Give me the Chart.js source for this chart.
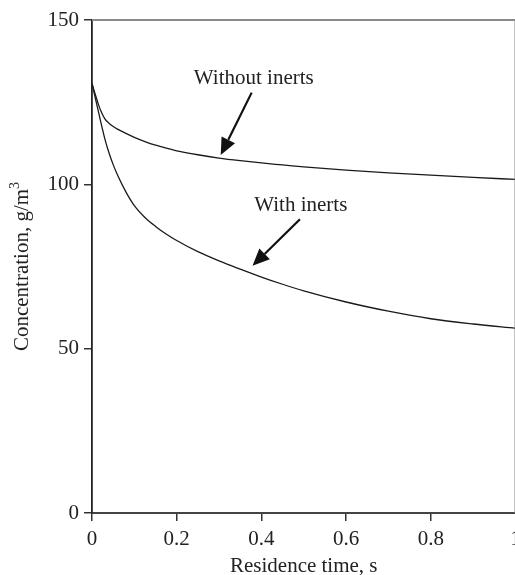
<!DOCTYPE html>
<html>
<head>
<meta charset="utf-8">
<title>Concentration vs residence time</title>
<script src="https://cdn.jsdelivr.net/npm/chart.js@4.4.0/dist/chart.umd.min.js"></script>
<style>
  html, body { margin: 0; padding: 0; background: #fff; overflow: hidden; width: 515px; height: 575px; }
  #wrap { position: absolute; left: 0; top: 0; width: 540px; height: 590px; }
</style>
</head>
<body>
<div id="wrap"><canvas id="conc-chart"></canvas></div>
<script>
// residence time, s
const residenceTime = [0, 0.005, 0.01, 0.015, 0.02, 0.03, 0.04, 0.05, 0.06, 0.08, 0.1, 0.125, 0.15, 0.175, 0.2,
                       0.25, 0.3, 0.35, 0.4, 0.45, 0.5, 0.6, 0.7, 0.8, 0.9, 1.0];
// concentration, g/m3
const withoutInerts = [130.7, 128.5, 126.4, 124.4, 122.6, 120.0, 118.6, 117.6, 116.8, 115.5, 114.3, 113.0, 111.9, 111.0, 110.2,
                       109.0, 108.0, 107.2, 106.5, 105.9, 105.3, 104.3, 103.5, 102.8, 102.1, 101.5];
const withInerts    = [130.7, 127.8, 125.0, 122.2, 119.4, 114.0, 109.6, 106.0, 102.9, 97.7, 93.5, 89.9, 87.2, 84.9, 82.9,
                       79.5, 76.7, 74.2, 71.8, 69.6, 67.6, 64.2, 61.4, 59.1, 57.5, 56.2];

const xTicks = [0, 0.2, 0.4, 0.6, 0.8, 1];
const yTicks = [0, 50, 100, 150];

// callout text with an arrow pointing at its curve (data units)
const callouts = [
  { text: 'Without inerts', at: [0.382, 132.3], from: [0.377, 127.9], to: [0.304, 108.9] },
  { text: 'With inerts',    at: [0.493, 93.7],  from: [0.491, 89.4],  to: [0.379, 75.2] }
];

const SERIF = '"Liberation Serif", "Times New Roman", serif';
const INK = '#222';

const toPoints = (xs, ys) => xs.map((x, i) => ({ x, y: ys[i] }));

// top/right frame, y title with superscript, and the arrow callouts
const decorations = {
  id: 'decorations',
  afterDraw(chart) {
    const { ctx, chartArea: a, scales: { x, y } } = chart;
    ctx.save();

    ctx.strokeStyle = '#8a8a8a';
    ctx.lineWidth = 2;
    ctx.beginPath();
    ctx.moveTo(a.left, a.top);
    ctx.lineTo(a.right, a.top);
    ctx.lineTo(a.right, a.bottom);
    ctx.stroke();

    // y axis title
    ctx.fillStyle = INK;
    ctx.translate(22, (a.top + a.bottom) / 2);
    ctx.rotate(-Math.PI / 2);
    const main = 'Concentration, g/m';
    ctx.font = `14px ${SERIF}`;
    const supW = ctx.measureText('3').width;
    ctx.font = `21px ${SERIF}`;
    const mainW = ctx.measureText(main).width;
    const startX = -(mainW + supW) / 2;
    ctx.textBaseline = 'middle';
    ctx.textAlign = 'left';
    ctx.fillText(main, startX, 0);
    ctx.font = `14px ${SERIF}`;
    ctx.fillText('3', startX + mainW, -7);
    ctx.setTransform(1, 0, 0, 1, 0, 0);

    // callouts
    ctx.font = `21px ${SERIF}`;
    ctx.textAlign = 'center';
    ctx.textBaseline = 'middle';
    callouts.forEach(c => {
      ctx.fillStyle = INK;
      ctx.fillText(c.text, x.getPixelForValue(c.at[0]), y.getPixelForValue(c.at[1]));

      const x0 = x.getPixelForValue(c.from[0]), y0 = y.getPixelForValue(c.from[1]);
      const x1 = x.getPixelForValue(c.to[0]),   y1 = y.getPixelForValue(c.to[1]);
      const ang = Math.atan2(y1 - y0, x1 - x0);
      const head = 17, half = 7.5;
      const bx = x1 - head * Math.cos(ang), by = y1 - head * Math.sin(ang);

      ctx.strokeStyle = '#111';
      ctx.lineWidth = 2.2;
      ctx.beginPath();
      ctx.moveTo(x0, y0);
      ctx.lineTo(bx, by);
      ctx.stroke();

      ctx.fillStyle = '#111';
      ctx.beginPath();
      ctx.moveTo(x1, y1);
      ctx.lineTo(bx + half * Math.sin(ang), by - half * Math.cos(ang));
      ctx.lineTo(bx - half * Math.sin(ang), by + half * Math.cos(ang));
      ctx.closePath();
      ctx.fill();
    });

    ctx.restore();
  }
};

const lineStyle = {
  borderColor: '#1a1a1a',
  borderWidth: 1.3,
  pointRadius: 0,
  fill: false,
  cubicInterpolationMode: 'monotone'
};

new Chart(document.getElementById('conc-chart'), {
  type: 'line',
  data: {
    datasets: [
      { label: 'Without inerts', data: toPoints(residenceTime, withoutInerts), ...lineStyle },
      { label: 'With inerts',    data: toPoints(residenceTime, withInerts),    ...lineStyle }
    ]
  },
  options: {
    responsive: true,
    maintainAspectRatio: false,
    animation: false,
    events: [],
    layout: { padding: { top: 20, right: 24.5, left: 0, bottom: 0 } },
    plugins: {
      legend: { display: false },
      tooltip: { enabled: false }
    },
    scales: {
      x: {
        type: 'linear',
        min: 0,
        max: 1,
        afterBuildTicks: s => { s.ticks = xTicks.map(v => ({ value: v })); },
        afterFit: s => { s.height = 77; },
        grid: { drawOnChartArea: false, drawTicks: true, tickLength: 8, color: '#333', lineWidth: 1.5 },
        border: { display: true, color: '#444', width: 2 },
        ticks: {
          color: INK,
          padding: 6,
          maxRotation: 0,
          font: { family: SERIF, size: 21 },
          callback: v => String(Number(v.toFixed(1)))
        },
        title: {
          display: true,
          text: 'Residence time, s',
          color: INK,
          font: { family: SERIF, size: 21 },
          padding: { top: 0, bottom: 11 }
        }
      },
      y: {
        min: 0,
        max: 150,
        afterBuildTicks: s => { s.ticks = yTicks.map(v => ({ value: v })); },
        afterFit: s => { s.width = 92; },
        grid: { drawOnChartArea: false, drawTicks: true, tickLength: 8, color: '#333', lineWidth: 1.5 },
        border: { display: true, color: '#222', width: 1.8 },
        ticks: {
          color: INK,
          padding: 5,
          font: { family: SERIF, size: 21 }
        }
      }
    }
  },
  plugins: [decorations]
});
</script>
</body>
</html>
